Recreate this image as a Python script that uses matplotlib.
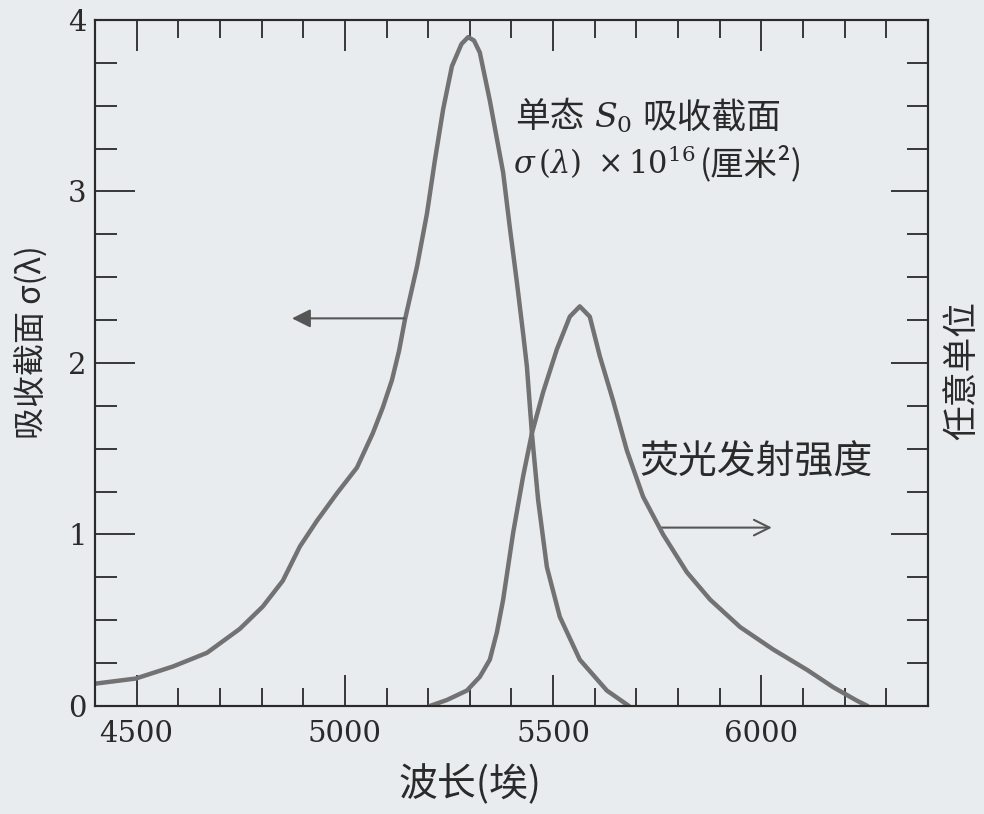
import matplotlib.pyplot as plt
from matplotlib.ticker import MultipleLocator

# absorption cross-section sigma(lambda) x 1e16 cm^2 (left axis)
abs_wl = [4400, 4498, 4587, 4669, 4748, 4803, 4851, 4892, 4933, 4981, 5029,
          5067, 5091, 5113, 5130, 5144, 5173, 5197, 5216, 5236, 5257, 5280,
          5296, 5310, 5324, 5348, 5380, 5396, 5413, 5428, 5437, 5449, 5464,
          5485, 5516, 5564, 5629, 5682]
abs_sigma = [0.13, 0.16, 0.23, 0.31, 0.45, 0.58, 0.73, 0.93, 1.08, 1.24, 1.39,
             1.59, 1.74, 1.90, 2.07, 2.25, 2.56, 2.87, 3.18, 3.48, 3.73, 3.86,
             3.90, 3.88, 3.81, 3.53, 3.11, 2.79, 2.47, 2.17, 1.98, 1.59, 1.20,
             0.81, 0.52, 0.27, 0.09, 0.0]

# fluorescence emission, arbitrary units (right axis)
fl_wl = [5204, 5245, 5293, 5324, 5348, 5365, 5380, 5404, 5428, 5449, 5476,
         5509, 5540, 5564, 5588, 5612, 5644, 5677, 5716, 5764, 5821, 5877,
         5949, 6028, 6110, 6172, 6230, 6255]
fl_int = [0.0, 0.035, 0.09, 0.17, 0.27, 0.43, 0.62, 1.01, 1.34, 1.59, 1.83,
          2.08, 2.27, 2.33, 2.27, 2.04, 1.78, 1.49, 1.22, 1.00, 0.78, 0.62,
          0.46, 0.33, 0.21, 0.11, 0.03, 0.0]

x_ticks = [4500, 5000, 5500, 6000]
y_ticks = [0, 1, 2, 3, 4]

bg = '#e9ecef'
ink = '#2a2a2a'
curve = '#727272'
cjk = ['Noto Sans CJK SC', 'DejaVu Serif']

fig = plt.figure(figsize=(9.84, 8.14), dpi=100, facecolor=bg)
ax = fig.add_axes([0.0965, 0.1327, 0.8466, 0.8428], facecolor=bg)
ax2 = ax.twinx()

ax.plot(abs_wl, abs_sigma, color=curve, lw=3.2, solid_capstyle='round',
        solid_joinstyle='round')
ax2.plot(fl_wl, fl_int, color=curve, lw=3.2, solid_capstyle='round',
         solid_joinstyle='round')

ax.set_xlim(4400, 6400)
ax.set_ylim(0, 4)
ax2.set_ylim(0, 4)

ax.set_xticks(x_ticks)
ax.set_yticks(y_ticks)
ax.xaxis.set_minor_locator(MultipleLocator(100))
ax.yaxis.set_minor_locator(MultipleLocator(0.25))
ax2.set_yticks(y_ticks)
ax2.yaxis.set_minor_locator(MultipleLocator(0.25))
ax2.set_yticklabels([])

ax.tick_params(axis='x', which='both', direction='in', top=True, bottom=True,
               color=ink, width=1.3, pad=10)
ax.tick_params(axis='x', which='major', length=22)
ax.tick_params(axis='x', which='minor', length=13)
ax.tick_params(axis='y', which='both', direction='in', left=True, right=False,
               color=ink, width=1.3, pad=6)
ax.tick_params(axis='y', which='major', length=29)
ax.tick_params(axis='y', which='minor', length=16)
ax2.tick_params(axis='y', which='both', direction='in', color=ink, width=1.3)
ax2.tick_params(axis='y', which='major', length=27)
ax2.tick_params(axis='y', which='minor', length=15)

for lab in ax.get_xticklabels() + ax.get_yticklabels():
    lab.set_family('DejaVu Serif')
    lab.set_fontsize(21)
    lab.set_color(ink)

for a in (ax, ax2):
    for s in a.spines.values():
        s.set_color(ink)
        s.set_linewidth(1.5)

# annotations, pieces chained left to right
t1 = ax.text(5408, 3.43, '单态', family=cjk, fontsize=25, color=ink, va='center')
t2 = ax.annotate('$S_0$', xy=(1, 0.5), xycoords=t1, xytext=(7, 0),
                 textcoords='offset points', va='center', fontsize=24,
                 color=ink, math_fontfamily='dejavuserif')
ax.annotate('吸收截面', xy=(1, 0.5), xycoords=t2, xytext=(7, 0),
            textcoords='offset points', va='center', family=cjk,
            fontsize=25, color=ink)
t4 = ax.text(5404, 3.17, '$\\sigma\\,(\\lambda)\\ \\times 10^{16}$', fontsize=22,
             color=ink, va='center', math_fontfamily='dejavuserif')
ax.annotate('(厘米²)', xy=(1, 0.45), xycoords=t4, xytext=(3, 0),
            textcoords='offset points', va='center', family=cjk,
            fontsize=24, color=ink)
ax.text(5708, 1.42, '荧光发射强度', family=cjk, fontsize=28, color=ink,
        va='center')

ax.annotate('', xy=(4873, 2.26), xytext=(5144, 2.26),
            arrowprops=dict(arrowstyle='-|>', color='#555555', lw=1.5,
                            mutation_scale=28, shrinkA=0, shrinkB=0))
ax.annotate('', xy=(6025, 1.04), xytext=(5757, 1.04),
            arrowprops=dict(arrowstyle='->', color='#555555', lw=1.5,
                            mutation_scale=28, shrinkA=0, shrinkB=0))

fig.text(0.033, 0.58, '吸收截面 σ(λ)', family=cjk, fontsize=23, color=ink,
         rotation=90, ha='center', va='center')
fig.text(0.478, 0.036, '波长(埃)', family=cjk, fontsize=28, color=ink,
         ha='center', va='center')
fig.text(0.978, 0.545, '任意单位', family=cjk, fontsize=25, color=ink,
         rotation=90, ha='center', va='center')

fig.savefig('out.png', dpi=100, facecolor=bg)
